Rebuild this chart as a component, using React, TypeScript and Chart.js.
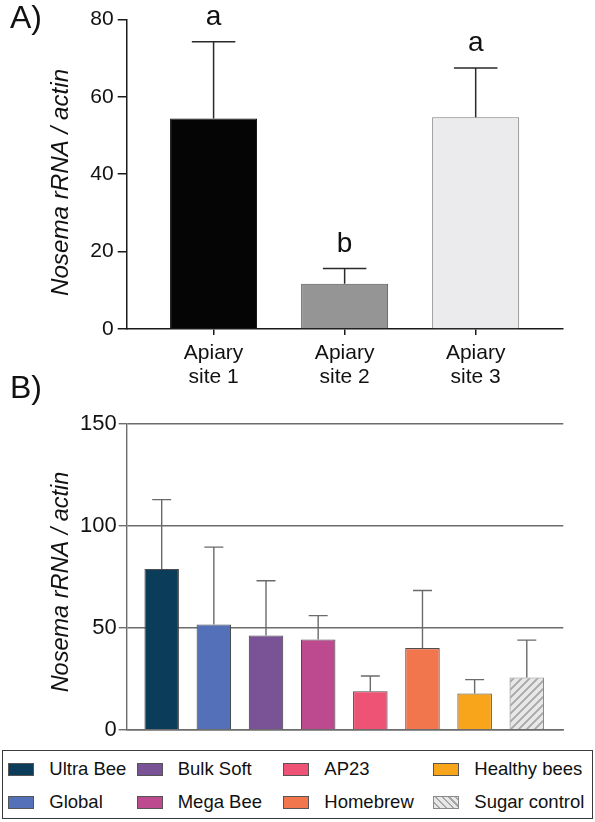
import React, { useEffect, useRef } from 'react';
import { Chart, registerables } from 'chart.js';

Chart.register(...registerables);

const FONT = "'Liberation Sans', Arial, Helvetica, sans-serif";

// ---------- Panel A data ----------
const sitesA: string[][] = [['Apiary', 'site 1'], ['Apiary', 'site 2'], ['Apiary', 'site 3']];
const meansA = [54.4, 11.7, 54.7];
const sdA = [19.8, 3.9, 12.7];
const lettersA = ['a', 'b', 'a'];
const colorsA = ['#050505', '#959595', '#ebebed'];
const bordersA = ['#050505', '#555555', '#7a7a7a'];

// ---------- Panel B data ----------
const productsB = ['Ultra Bee', 'Global', 'Bulk Soft', 'Mega Bee', 'AP23', 'Homebrew', 'Healthy bees', 'Sugar control'];
const meansB = [78.9, 51.7, 46.3, 44.3, 18.9, 40.1, 17.8, 25.7];
const sdB = [34.0, 37.9, 26.8, 11.7, 7.5, 28.2, 6.8, 18.3];
const colorsB = ['#0b3d5a', '#5470b8', '#7a5296', '#bd4a8e', '#ee5275', '#f2764d', '#f9a51c', '#e8e8e8'];
const hatchedB = [false, false, false, false, false, false, false, true];

const Y_TITLE = 'Nosema rRNA / actin';

function makeHatch(): CanvasPattern | string {
  const c = document.createElement('canvas');
  c.width = 8;
  c.height = 8;
  const g = c.getContext('2d');
  if (!g) return '#e8e8e8';
  g.fillStyle = '#e8e8e8';
  g.fillRect(0, 0, 8, 8);
  g.strokeStyle = '#a6a6a6';
  g.lineWidth = 1.8;
  g.beginPath();
  g.moveTo(-1, 9); g.lineTo(9, -1);
  g.moveTo(-3, 3); g.lineTo(3, -3);
  g.moveTo(5, 11); g.lineTo(11, 5);
  g.stroke();
  return g.createPattern(c, 'repeat') || '#e8e8e8';
}

function errorBars(sd: number[], color: string, width: number, capFrac: number, letters?: string[]) {
  return {
    id: 'errorBars',
    afterDatasetsDraw(chart: any) {
      const ctx = chart.ctx;
      const meta = chart.getDatasetMeta(0);
      const data = chart.data.datasets[0].data as any[];
      const ys = chart.scales.y;
      ctx.save();
      ctx.strokeStyle = color;
      ctx.lineWidth = width;
      meta.data.forEach((bar: any, i: number) => {
        const v = data[i].y;
        const x = bar.x;
        const yMean = ys.getPixelForValue(v);
        const yTop = ys.getPixelForValue(v + sd[i]);
        const half = bar.width * capFrac;
        ctx.beginPath();
        ctx.moveTo(x, yMean);
        ctx.lineTo(x, yTop);
        ctx.moveTo(x - half, yTop);
        ctx.lineTo(x + half, yTop);
        ctx.stroke();
        if (letters) {
          ctx.fillStyle = '#111';
          ctx.font = `28px ${FONT}`;
          ctx.textAlign = 'center';
          ctx.textBaseline = 'alphabetic';
          ctx.fillText(letters[i], x, yTop - 17);
        }
      });
      ctx.restore();
    },
  };
}

function yTitle(x: number, y: number, size: number) {
  return {
    id: 'yTitle',
    afterDraw(chart: any) {
      const ctx = chart.ctx;
      ctx.save();
      ctx.translate(x, y);
      ctx.rotate(-Math.PI / 2);
      ctx.fillStyle = '#111';
      ctx.font = `italic ${size}px ${FONT}`;
      ctx.textAlign = 'center';
      ctx.textBaseline = 'middle';
      ctx.fillText(Y_TITLE, 0, 0);
      ctx.restore();
    },
  };
}

const legendColX = [8.3, 136.7, 283.3, 433.3];
const legendRowY = [769.3, 802];

export default function App() {
  const refA = useRef<HTMLCanvasElement>(null);
  const refB = useRef<HTMLCanvasElement>(null);

  useEffect(() => {
    if (!refA.current || !refB.current) return;
    Chart.defaults.font.family = FONT;
    Chart.defaults.color = '#111';

    const axisA = '#1a1a1a';
    const chartA = new Chart(refA.current, {
      type: 'bar',
      data: {
        datasets: [
          {
            data: meansA.map((v, i) => ({ x: i + 1, y: v })),
            backgroundColor: colorsA,
            borderColor: bordersA,
            borderWidth: 1,
            barPercentage: 0.664,
            categoryPercentage: 1,
          },
        ],
      },
      options: {
        responsive: false,
        animation: false,
        events: [],
        layout: { padding: { left: 0, right: 32.3, top: 19.3, bottom: 0 } },
        plugins: { legend: { display: false }, tooltip: { enabled: false } },
        scales: {
          x: {
            type: 'linear',
            offset: false,
            min: 0.337,
            max: 3.664,
            afterBuildTicks: (s: any) => {
              s.ticks = sitesA.map((_, i) => ({ value: i + 1 }));
            },
            afterFit: (s: any) => {
              s.height = 400 - 329;
            },
            ticks: {
              callback: (v: any) => sitesA[Math.round(v) - 1] || '',
              font: { size: 21, lineHeight: 1.16 },
              color: '#111',
              padding: 6,
              maxRotation: 0,
              autoSkip: false,
            },
            grid: { drawOnChartArea: false, drawTicks: true, tickLength: 6, color: axisA, lineWidth: 1.5, offset: false },
            border: { display: true, color: axisA, width: 1.5 },
          },
          y: {
            min: 0,
            max: 80,
            afterFit: (s: any) => {
              s.width = 126.7;
            },
            ticks: { stepSize: 20, font: { size: 21 }, color: '#111', padding: 4 },
            grid: { drawOnChartArea: false, drawTicks: true, tickLength: 9, color: axisA, lineWidth: 1.5 },
            border: { display: true, color: axisA, width: 1.5 },
          },
        },
      },
      plugins: [errorBars(sdA, '#2a2a2a', 1.5, 0.25, lettersA), yTitle(61, 182.5, 24.2)],
    } as any);

    const hatch = makeHatch();
    const axisB = '#6c6c6c';
    const chartB = new Chart(refB.current, {
      type: 'bar',
      data: {
        datasets: [
          {
            data: meansB.map((v, i) => ({ x: i + 1, y: v })),
            backgroundColor: colorsB.map((c, i) => (hatchedB[i] ? hatch : c)),
            borderColor: colorsB.map((_, i) => (hatchedB[i] ? '#8a8a8a' : '#4d4d4d')),
            borderWidth: 1.1,
            barPercentage: 0.662,
            categoryPercentage: 1,
          },
        ],
      },
      options: {
        responsive: false,
        animation: false,
        events: [],
        layout: { padding: { left: 0, right: 31.7, top: 24, bottom: 0 } },
        plugins: { legend: { display: false }, tooltip: { enabled: false } },
        scales: {
          x: {
            type: 'linear',
            offset: false,
            min: 0.329,
            max: 8.7,
            afterBuildTicks: (s: any) => {
              s.ticks = productsB.map((_, i) => ({ value: i + 1 }));
            },
            afterFit: (s: any) => {
              s.height = 345 - 333.3;
            },
            ticks: { display: false },
            grid: { display: false, offset: false },
            border: { display: true, color: axisB, width: 1.4 },
          },
          y: {
            min: 0,
            max: 150,
            afterFit: (s: any) => {
              s.width = 126.7;
            },
            ticks: { stepSize: 50, font: { size: 22 }, color: '#111', padding: 2 },
            grid: { drawOnChartArea: true, drawTicks: true, tickLength: 8, color: axisB, lineWidth: 1.4 },
            border: { display: true, color: axisB, width: 1.4 },
          },
        },
      },
      plugins: [errorBars(sdB, '#6a6a6a', 1.4, 0.275), yTitle(61, 182, 23.5)],
    } as any);

    return () => {
      chartA.destroy();
      chartB.destroy();
    };
  }, []);

  return (
    <div
      style={{
        position: 'absolute',
        left: 0,
        top: 0,
        width: 595,
        height: 822,
        background: '#ffffff',
        fontFamily: FONT,
        color: '#111',
        overflow: 'hidden',
      }}
    >
      <canvas
        ref={refA}
        width={595}
        height={400}
        style={{ position: 'absolute', left: 0, top: 0, width: 595, height: 400 }}
      />
      <canvas
        ref={refB}
        width={595}
        height={345}
        style={{ position: 'absolute', left: 0, top: 400, width: 595, height: 345 }}
      />
      <div style={{ position: 'absolute', left: 10, top: 1, fontSize: 32, lineHeight: '32px' }}>A)</div>
      <div style={{ position: 'absolute', left: 10, top: 371, fontSize: 32, lineHeight: '32px' }}>B)</div>
      <div
        style={{
          position: 'absolute',
          left: 2,
          top: 750,
          width: 591,
          height: 69,
          boxSizing: 'border-box',
          border: '1.5px solid #3a3a3a',
        }}
      />
      {productsB.map((name, i) => {
        const col = Math.floor(i / 2);
        const row = i % 2;
        const left = legendColX[col];
        const cy = legendRowY[row];
        const bg = hatchedB[i]
          ? 'repeating-linear-gradient(45deg, #e8e8e8 0px, #e8e8e8 3.2px, #a6a6a6 3.2px, #a6a6a6 4.8px)'
          : colorsB[i];
        return (
          <React.Fragment key={name}>
            <div
              style={{
                position: 'absolute',
                left,
                top: cy - 6.5,
                width: 26,
                height: 13,
                boxSizing: 'border-box',
                border: `1px solid ${hatchedB[i] ? '#8a8a8a' : '#555'}`,
                background: bg,
              }}
            />
            <div
              style={{
                position: 'absolute',
                left: left + 41,
                top: cy - 12,
                height: 24,
                lineHeight: '24px',
                fontSize: 18.5,
                whiteSpace: 'nowrap',
              }}
            >
              {name}
            </div>
          </React.Fragment>
        );
      })}
    </div>
  );
}
